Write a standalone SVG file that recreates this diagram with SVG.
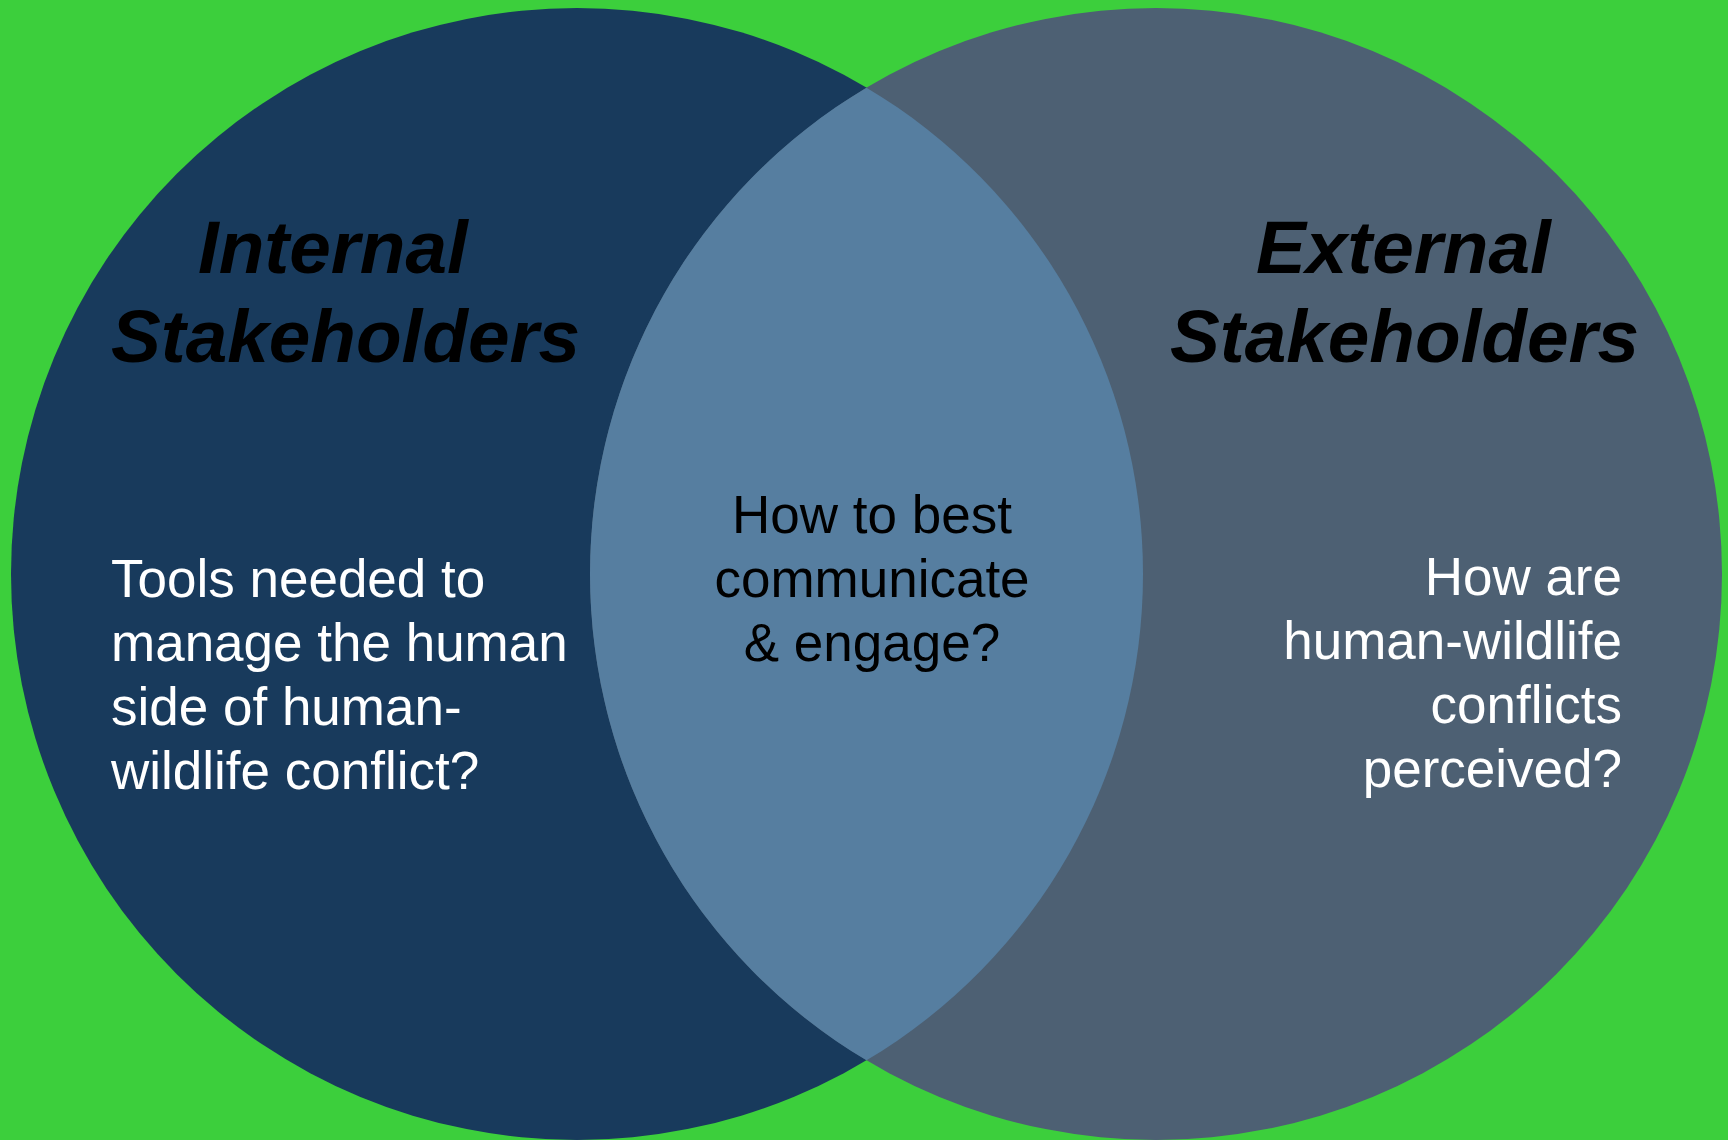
<svg xmlns="http://www.w3.org/2000/svg" width="1728" height="1140" viewBox="0 0 1728 1140">
  <style>
    .title { font-family: "Liberation Sans", Arial, sans-serif; font-weight: bold; font-style: italic; font-size: 74.7px; fill: #000000; }
    .body { font-family: "Liberation Sans", Arial, sans-serif; font-size: 53px; }
    .white { fill: #ffffff; }
    .black { fill: #000000; }
  </style>
  <rect x="0" y="0" width="1728" height="1140" fill="#3CCF3C"/>
  <g id="internal">
    <circle cx="577" cy="574" r="566" fill="#183A5C"/>
  </g>
  <g id="external">
    <circle cx="1156" cy="574" r="566" fill="#4D6073"/>
  </g>
  <g id="overlap">
    <path d="M 866.5 87.64 A 566 566 0 0 0 866.5 1060.36 A 566 566 0 0 0 866.5 87.64 Z" fill="#567EA0"/>
  </g>
  <g id="internal-text">
    <text class="title" x="198" y="273">Internal</text>
    <text class="title" x="111" y="362">Stakeholders</text>
    <text class="body white" x="111" y="597">Tools needed to</text>
    <text class="body white" x="111" y="661">manage the human</text>
    <text class="body white" x="111" y="725">side of human-</text>
    <text class="body white" x="111" y="789">wildlife conflict?</text>
  </g>
  <g id="external-text">
    <text class="title" x="1256" y="273">External</text>
    <text class="title" x="1170" y="362">Stakeholders</text>
    <text class="body white" x="1622" y="595" text-anchor="end">How are</text>
    <text class="body white" x="1622" y="659" text-anchor="end">human-wildlife</text>
    <text class="body white" x="1622" y="723" text-anchor="end">conflicts</text>
    <text class="body white" x="1622" y="787" text-anchor="end">perceived?</text>
  </g>
  <g id="overlap-text">
    <text class="body black" x="872" y="533" text-anchor="middle">How to best</text>
    <text class="body black" x="872" y="597" text-anchor="middle">communicate</text>
    <text class="body black" x="872" y="661" text-anchor="middle">&amp; engage?</text>
  </g>
</svg>
